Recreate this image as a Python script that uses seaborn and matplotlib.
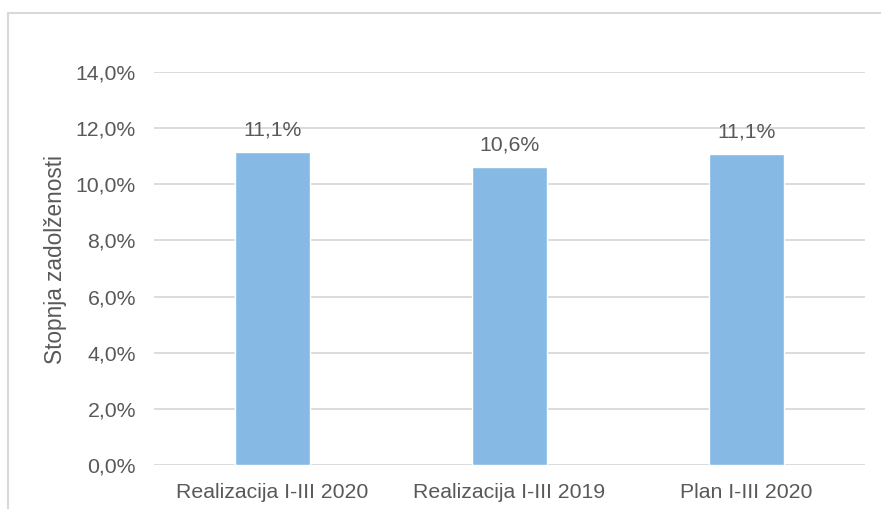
import numpy as np
import pandas as pd
import matplotlib
matplotlib.use("Agg")
import matplotlib.pyplot as plt
import seaborn as sns

# data
categories = ["Realizacija I-III 2020", "Realizacija I-III 2019", "Plan I-III 2020"]
values = [11.14, 10.61, 11.08]
labels = ["11,1%", "10,6%", "11,1%"]
yticks = [0, 2, 4, 6, 8, 10, 12, 14]

df = pd.DataFrame({"Kategorija": categories, "Vrednost": values})

sns.set_style("white")
plt.rcParams["font.family"] = ["Liberation Sans", "DejaVu Sans"]

txt = "#595959"
fs = 15.3
fig = plt.figure(figsize=(8.81, 5.09), dpi=100)
ax = fig.add_axes([154 / 881, 44 / 509, 711 / 881, 393 / 509])

sns.barplot(data=df, x="Kategorija", y="Vrednost", color="#86BAE5",
            width=0.317, saturation=1, ax=ax, zorder=3)

ax.set_ylim(0, 14)
ax.set_yticks(yticks)
ax.set_yticklabels([f"{t:.1f}%".replace(".", ",") for t in yticks])
ax.grid(axis="y", color="#D9D9D9", linewidth=1.3, zorder=0)
ax.grid(axis="x", visible=False)
for s in ax.spines.values():
    s.set_visible(False)
ax.tick_params(axis="both", length=0, labelsize=fs, labelcolor=txt)
ax.tick_params(axis="y", pad=13)
ax.tick_params(axis="x", pad=13)
ax.set_xlabel("")
ax.set_ylabel("Stopnja zadolženosti", fontsize=16.3, color=txt, labelpad=6)
ax.yaxis.label.set_y(0.524)

for i, (v, lab) in enumerate(zip(values, labels)):
    ax.text(i, v + 0.45, lab, ha="center", va="bottom", fontsize=fs, color=txt)

# outer chart border
fig.patches.append(plt.Rectangle((8 / 881, -0.05), 1.0, 1 - 13 / 509 + 0.05,
                                 transform=fig.transFigure, fill=False,
                                 edgecolor="#D9D9D9", linewidth=1.5))

fig.savefig("out.png", dpi=100)
